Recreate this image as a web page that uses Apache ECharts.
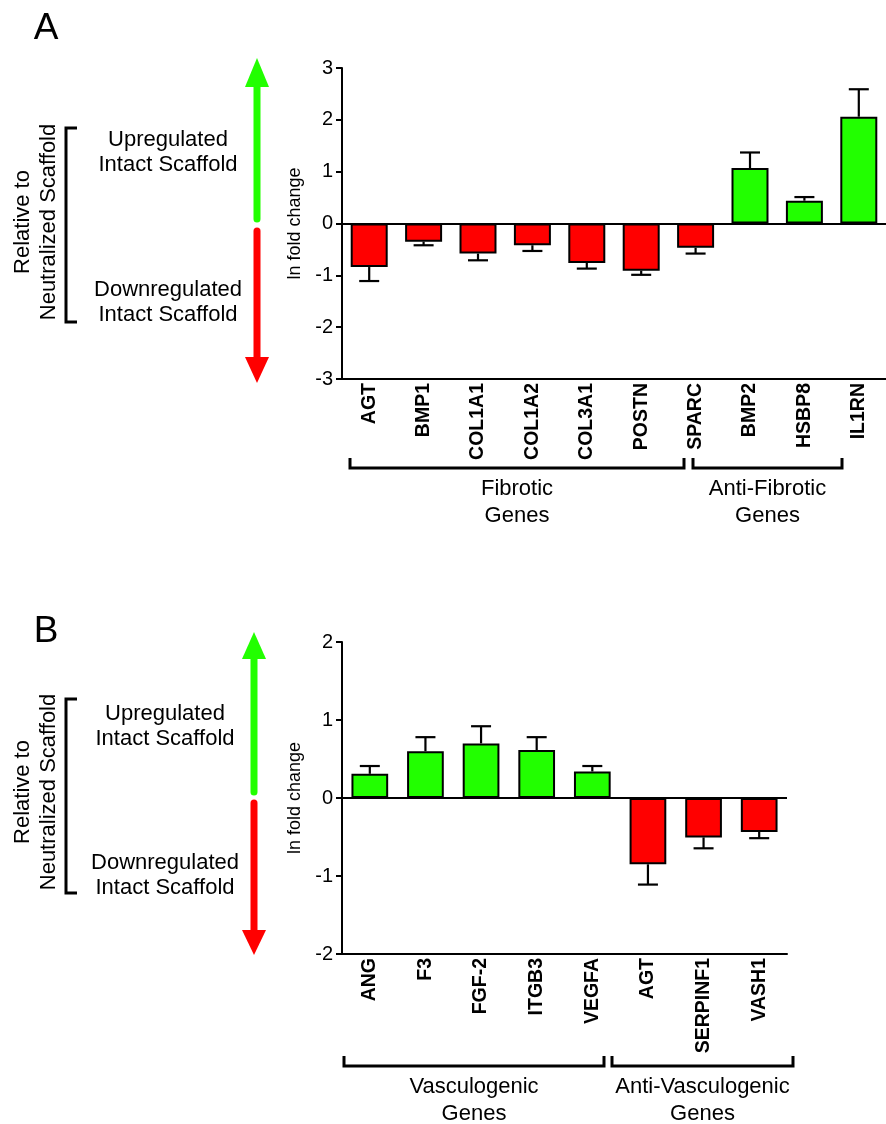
<!DOCTYPE html>
<html>
<head>
<meta charset="utf-8">
<script src="https://cdn.jsdelivr.net/npm/echarts@6/dist/echarts.min.js"></script>
<style>html,body{margin:0;padding:0;background:#fff}#c{width:886px;height:1124px}</style>
</head>
<body>
<div id="c"></div>
<script>
// ---- Data ----
const genesA = ['AGT','BMP1','COL1A1','COL1A2','COL3A1','POSTN','SPARC','BMP2','HSBP8','IL1RN'];
const meansA = [-0.84,-0.35,-0.58,-0.42,-0.76,-0.91,-0.47,1.07,0.44,2.06];
const errsA  = [0.27,0.07,0.13,0.11,0.11,0.08,0.11,0.30,0.07,0.53];
const genesB = ['ANG','F3','FGF-2','ITGB3','VEGFA','AGT','SERPINF1','VASH1'];
const meansB = [0.31,0.60,0.70,0.615,0.34,-0.85,-0.505,-0.435];
const errsB  = [0.10,0.18,0.22,0.165,0.07,0.26,0.14,0.08];
const yTicksA = [-3,-2,-1,0,1,2,3];
const yTicksB = [-2,-1,0,1,2];
const groupLabelsA = ['Fibrotic\nGenes','Anti-Fibrotic\nGenes'];
const groupLabelsB = ['Vasculogenic\nGenes','Anti-Vasculogenic\nGenes'];
const legendUp = 'Upregulated\nIntact Scaffold';
const legendDown = 'Downregulated\nIntact Scaffold';
const legendSide = 'Relative to\nNeutralized Scaffold';

const RED = '#ff0000', GREEN = '#22ff00';
const FONT = '"Liberation Sans", Arial, sans-serif';

const chart = echarts.init(document.getElementById('c'), null, {renderer:'canvas'});

function barData(means){
  return means.map(v => ({value:v, itemStyle:{color: v < 0 ? RED : GREEN}}));
}
function errData(means, errs){
  return means.map((v,i)=>[i, v, errs[i]]);
}
function renderErr(params, api){
  const x = api.value(0), y = api.value(1), e = api.value(2);
  const end = y + (y < 0 ? -e : e);
  const p0 = api.coord([x, y]);
  const p1 = api.coord([x, end]);
  const hw = 10;
  const st = {stroke:'#000', lineWidth:2.2};
  return {type:'group', children:[
    {type:'line', shape:{x1:p0[0], y1:p0[1], x2:p1[0], y2:p1[1]}, style:st},
    {type:'line', shape:{x1:p1[0]-hw, y1:p1[1], x2:p1[0]+hw, y2:p1[1]}, style:st}
  ]};
}
function yAxis(gi, ticks){
  return {
    type:'value', gridIndex:gi, min:ticks[0], max:ticks[ticks.length-1], interval:1,
    name:'ln fold change', nameLocation:'middle', nameGap:27,
    nameTextStyle:{color:'#000', fontSize:18, fontFamily:FONT},
    axisLine:{show:true, lineStyle:{color:'#000', width:2}},
    axisTick:{show:true, length:6, lineStyle:{color:'#000', width:2}},
    axisLabel:{color:'#000', fontSize:20, fontFamily:FONT, margin:9},
    splitLine:{show:false}
  };
}
function xAxis(gi, cats){
  return {
    type:'category', gridIndex:gi, data:cats,
    axisLine:{show:true, onZero:false, lineStyle:{color:'#000', width:2}},
    axisTick:{show:false},
    axisLabel:{rotate:90, color:'#000', fontSize:19.5, fontWeight:'bold', fontFamily:FONT, margin:4, interval:0}
  };
}
const zeroLine = {silent:true, symbol:['none','none'], label:{show:false},
  lineStyle:{color:'#000', width:2, type:'solid'}, data:[{yAxis:0}]};

// ---- Decorations (graphic) ----
const G = [];
function txt(x, y, s, size, opts){
  G.push(Object.assign({type:'text', x:x, y:y, silent:true,
    style:Object.assign({text:s, fill:'#000', font: size+'px '+FONT, align:'center', verticalAlign:'middle'}, (opts&&opts.style)||{})},
    (opts&&opts.extra)||{}));
}
function poly(points, color, width){
  G.push({type:'polyline', silent:true, shape:{points:points}, style:{stroke:color, lineWidth:width, fill:null, lineJoin:'miter'}});
}
function arrow(cx, tipUp, headUp, shaftUpEnd, shaftDownStart, headDown, tipDown){
  G.push({type:'line', silent:true, shape:{x1:cx, y1:headUp, x2:cx, y2:shaftUpEnd}, style:{stroke:GREEN, lineWidth:7, lineCap:'round'}});
  G.push({type:'polygon', silent:true, shape:{points:[[cx,tipUp],[cx-12,headUp],[cx+12,headUp]]}, style:{fill:GREEN}});
  G.push({type:'line', silent:true, shape:{x1:cx, y1:shaftDownStart, x2:cx, y2:headDown}, style:{stroke:RED, lineWidth:7, lineCap:'round'}});
  G.push({type:'polygon', silent:true, shape:{points:[[cx-12,headDown],[cx+12,headDown],[cx,tipDown]]}, style:{fill:RED}});
}
function panelDecor(letter, letterY, cx, ar, brTop, brBot, upY, downY, sideY, textX){
  txt(46, letterY, letter, 37);
  arrow(cx, ar[0], ar[1], ar[2], ar[3], ar[4], ar[5]);
  poly([[77,brTop],[66,brTop],[66,brBot],[77,brBot]], '#000', 3);
  txt(textX, upY, legendUp, 22, {style:{lineHeight:25}});
  txt(textX, downY, legendDown, 22, {style:{lineHeight:25}});
  G.push({type:'text', silent:true, x:36, y:sideY, rotation:Math.PI/2,
    style:{text:legendSide, fill:'#000', font:'22px '+FONT, align:'center', verticalAlign:'middle', lineHeight:26}});
}
panelDecor('A', 29, 257, [58,87,219,231,357,383], 128, 322, 152.5, 302.5, 222, 168);
panelDecor('B', 632, 254, [632,659,792,803,930,955], 699, 893, 726, 875.5, 792, 165);

function groupBracket(x1, x2, yb, label, ty){
  poly([[x1,yb-10],[x1,yb],[x2,yb],[x2,yb-10]], '#000', 3);
  txt((x1+x2)/2, ty, label, 22, {style:{lineHeight:27}});
}
groupBracket(350, 684, 468, groupLabelsA[0], 502.5);
groupBracket(693, 842, 468, groupLabelsA[1], 502.5);
groupBracket(344, 604, 1066, groupLabelsB[0], 1100);
groupBracket(612, 793, 1066, groupLabelsB[1], 1100);

const option = {
  backgroundColor:'#fff',
  animation:false,
  textStyle:{fontFamily:FONT},
  grid:[
    {left:342, top:68, width:544, height:311},
    {left:342, top:642, width:445, height:312}
  ],
  xAxis:[xAxis(0, genesA), xAxis(1, genesB)],
  yAxis:[yAxis(0, yTicksA), yAxis(1, yTicksB)],
  series:[
    {type:'bar', xAxisIndex:0, yAxisIndex:0, data:barData(meansA), barCategoryGap:'32%',
     itemStyle:{borderColor:'#000', borderWidth:2}, markLine:zeroLine, z:2},
    {type:'custom', xAxisIndex:0, yAxisIndex:0, data:errData(meansA, errsA), renderItem:renderErr, encode:{x:0,y:1}, z:3},
    {type:'bar', xAxisIndex:1, yAxisIndex:1, data:barData(meansB), barCategoryGap:'34%',
     itemStyle:{borderColor:'#000', borderWidth:2}, markLine:zeroLine, z:2},
    {type:'custom', xAxisIndex:1, yAxisIndex:1, data:errData(meansB, errsB), renderItem:renderErr, encode:{x:0,y:1}, z:3}
  ],
  graphic:G
};
chart.setOption(option);
</script>
</body>
</html>
